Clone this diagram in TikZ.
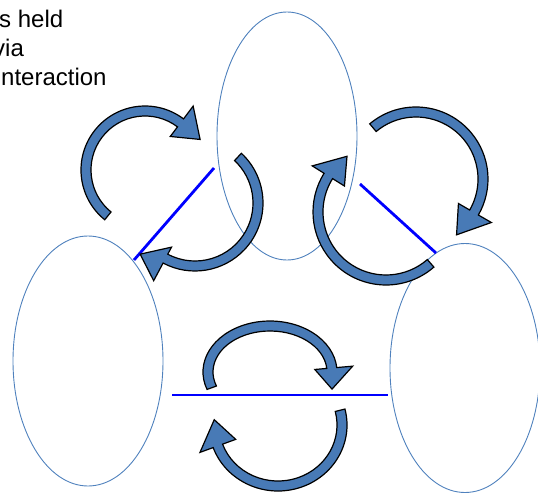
\documentclass[tikz,border=0pt]{standalone}
\usepackage{fontspec}
\setmainfont{Liberation Sans}
\usetikzlibrary{shapes.geometric}
\definecolor{elblue}{RGB}{79,129,189}
\definecolor{arfill}{RGB}{72,122,182}
\definecolor{bondblue}{RGB}{0,0,255}
\tikzset{
  cell/.style={ellipse, draw=elblue, line width=0.9pt, inner sep=0pt},
  bond/.style={draw=bondblue, line width=2.8pt},
  cyc/.style={draw=black, line width=1.2pt, fill=arfill, line join=miter},
  lbl/.style={anchor=base west, inner sep=0pt, font=\fontsize{24}{28}\selectfont}
}
% centre x, centre y, x radius, y radius, start angle, head-base angle, tip angle, tip offset
\newcommand\cycarrow[8]{%
  \pgfmathsetmacro\cxo{#3+5}\pgfmathsetmacro\cyo{#4+5}%
  \pgfmathsetmacro\cxi{#3-5}\pgfmathsetmacro\cyi{#4-5}%
  \pgfmathsetmacro\hxo{#3+19+#8/2}\pgfmathsetmacro\hyo{#4+19+#8/2}%
  \pgfmathsetmacro\hxi{#3-19+#8/2}\pgfmathsetmacro\hyi{#4-19+#8/2}%
  \pgfmathsetmacro\txo{#3+#8}\pgfmathsetmacro\tyo{#4+#8}%
  \begin{scope}[shift={(#1,#2)}]
    \draw[cyc] ({#5}:{\cxo} and {\cyo})
      arc[start angle=#5, end angle=#6, x radius=\cxo, y radius=\cyo]
      -- ({#6}:{\hxo} and {\hyo})
      -- ({#7}:{\txo} and {\tyo})
      -- ({#6}:{\hxi} and {\hyi})
      -- ({#6}:{\cxi} and {\cyi})
      arc[start angle=#6, end angle=#5, x radius=\cxi, y radius=\cyi]
      -- cycle;
  \end{scope}%
}
\begin{document}
\begin{tikzpicture}[x=1pt, y=-1pt]
  \useasboundingbox (0,0) rectangle (538,495);
  % text
  \node[lbl] (t1) at (-1,28) {s held};
  \node[lbl] (t2) at (-7,57) {via};
  \node[lbl] (t3) at (1,85) {nteraction};
  % cells
  \node[cell, minimum width=140pt, minimum height=248pt] (top) at (287,136) {};
  \node[cell, minimum width=150pt, minimum height=250pt] (left) at (88,361) {};
  \node[cell, minimum width=150pt, minimum height=249pt] (right) at (465,368) {};
  % bonds
  \coordinate (la) at (214,168);
  \coordinate (lb) at (134,260);
  \coordinate (ra) at (360,184);
  \coordinate (rb) at (436,253);
  \coordinate (ba) at (172,395);
  \coordinate (bb) at (388,395);
  \draw[bond] (la) -- (lb);
  \draw[bond] (ra) -- (rb);
  \draw[bond] (ba) -- (bb);
  % circular arrows
  \cycarrow{145}{170}{59}{59}{129}{307}{331}{4}
  \cycarrow{195}{203}{63}{63}{313}{478}{497}{12}
  \cycarrow{416}{179}{67}{67}{230}{390}{414}{2}
  \cycarrow{386}{212}{68}{68}{49}{212}{235}{0}
  \cycarrow{270}{372}{62}{46}{160}{355}{380}{4}
  \cycarrow{278}{425}{64}{61}{-14}{160}{185}{0}
\end{tikzpicture}
\end{document}
